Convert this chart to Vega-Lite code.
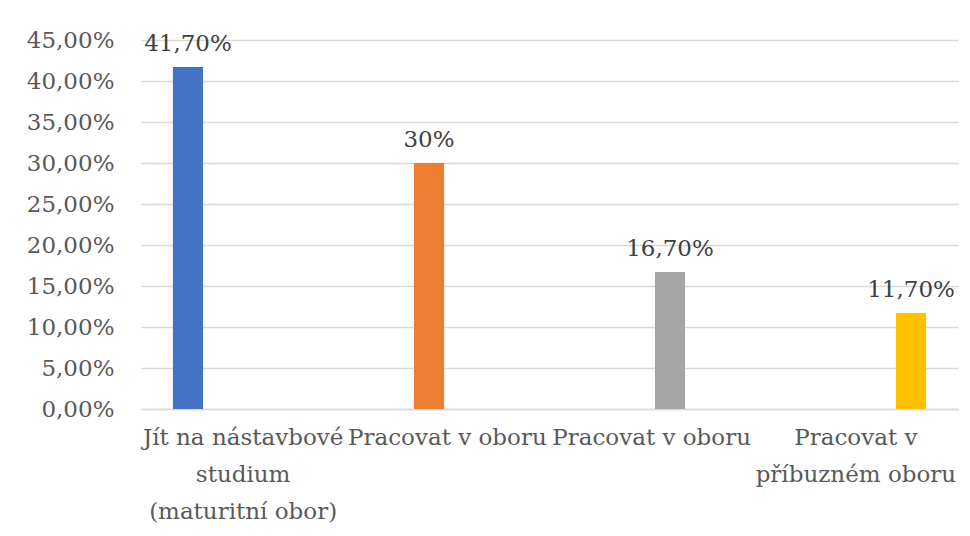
{
  "$schema": "https://vega.github.io/schema/vega-lite/v6.json",
  "autosize": {"type": "none"},
  "padding": {"left": 141, "top": 40, "right": 12, "bottom": 127},
  "width": 817,
  "height": 369,
  "background": "white",
  "config": {
    "font": "DejaVu Serif",
    "view": {"stroke": null}
  },
  "data": {
    "values": [
      {"key": "A", "value": 0.417, "label": "41,70%"},
      {"key": "B", "value": 0.30, "label": "30%"},
      {"key": "C", "value": 0.167, "label": "16,70%"},
      {"key": "D", "value": 0.117, "label": "11,70%"}
    ]
  },
  "encoding": {
    "x": {
      "field": "key",
      "type": "nominal",
      "sort": null,
      "scale": {"paddingInner": 0.28, "paddingOuter": 0.14},
      "axis": {
        "title": null,
        "labelAngle": 0,
        "ticks": false,
        "domainColor": "#d9d9d9",
        "domainWidth": 1.5,
        "labelFont": "DejaVu Serif",
        "labelFontSize": 23,
        "labelColor": "#595959",
        "labelPadding": 17,
        "labelLimit": 400,
        "labelLineHeight": 37,
        "labelExpr": "datum.value == 'A' ? ['Jít na nástavbové', 'studium', '(maturitní obor)'] : datum.value == 'B' ? 'Pracovat v oboru' : datum.value == 'C' ? 'Pracovat v oboru' : ['Pracovat v', 'příbuzném oboru']"
      }
    },
    "xOffset": {
      "field": "key",
      "type": "nominal",
      "sort": null,
      "scale": {"paddingInner": 0.18, "paddingOuter": 0.09}
    }
  },
  "layer": [
    {
      "mark": {"type": "bar"},
      "encoding": {
        "y": {
          "field": "value",
          "type": "quantitative",
          "scale": {"domain": [0, 0.45]},
          "axis": {
            "title": null,
            "values": [0, 0.05, 0.1, 0.15, 0.2, 0.25, 0.3, 0.35, 0.4, 0.45],
            "labelExpr": "replace(format(datum.value * 100, '.2f'), '.', ',') + '%'",
            "ticks": false,
            "domain": false,
            "gridColor": "#d9d9d9",
            "gridWidth": 1.5,
            "labelFont": "DejaVu Serif",
            "labelFontSize": 23,
            "labelColor": "#595959",
            "labelPadding": 27
          }
        },
        "color": {
          "field": "key",
          "type": "nominal",
          "sort": null,
          "scale": {"domain": ["A", "B", "C", "D"], "range": ["#4472C4", "#ED7D31", "#A5A5A5", "#FFC000"]},
          "legend": null
        }
      }
    },
    {
      "mark": {"type": "text", "baseline": "bottom", "dy": -11, "font": "DejaVu Serif", "fontSize": 23, "color": "#404040"},
      "encoding": {
        "y": {"field": "value", "type": "quantitative"},
        "text": {"field": "label"}
      }
    }
  ]
}
